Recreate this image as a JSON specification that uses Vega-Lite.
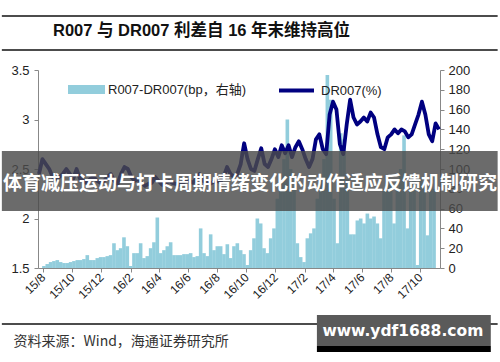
{
 "$schema": "https://vega.github.io/schema/vega-lite/v6.json",
 "autosize": "none",
 "width": 402,
 "height": 198,
 "padding": {"left": 38, "top": 70, "right": 60, "bottom": 94},
 "background": "white",
 "config": {
  "view": {"stroke": null},
  "font": "Liberation Sans, Noto Sans CJK SC",
  "axisX": {"labelOverlap": false, "labelFlush": false, "labelAngle": -45, "labelAlign": "right", "labelBaseline": "middle", "labelFontSize": 12, "labelColor": "#222", "grid": false, "domainColor": "#888", "tickColor": "#888", "tickSize": 4, "labelPadding": 3},
  "axisY": {"labelOverlap": false, "grid": false, "domainColor": "#888", "tickColor": "#888", "tickSize": 4, "labelFontSize": 13, "labelColor": "#222"}
 },
 "title": {"text": "R007 与 DR007 利差自 16 年末维持高位", "anchor": "start", "frame": "group", "dx": 15, "offset": -24, "fontSize": 16.5, "fontWeight": "bold", "font": "Liberation Sans, Noto Sans CJK SC", "color": "#111"},
 "datasets": {
  "main": [
   {"d":"2015-08-03","s":2,"r":2.45},{"d":"2015-08-10","s":4,"r":2.6},{"d":"2015-08-17","s":6,"r":2.55},{"d":"2015-08-24","s":7,"r":2.5},{"d":"2015-08-31","s":8,"r":2.42},
   {"d":"2015-09-07","s":6,"r":2.4},{"d":"2015-09-14","s":5,"r":2.42},{"d":"2015-09-21","s":5,"r":2.45},{"d":"2015-09-28","s":6,"r":2.5},
   {"d":"2015-10-05","s":7,"r":2.45},{"d":"2015-10-12","s":8,"r":2.4},{"d":"2015-10-19","s":8,"r":2.5},{"d":"2015-10-26","s":9,"r":2.4},
   {"d":"2015-11-02","s":13,"r":2.38},{"d":"2015-11-09","s":8,"r":2.36},{"d":"2015-11-16","s":8,"r":2.4},{"d":"2015-11-23","s":10,"r":2.42},{"d":"2015-11-30","s":11,"r":2.38},
   {"d":"2015-12-07","s":11,"r":2.36},{"d":"2015-12-14","s":12,"r":2.38},{"d":"2015-12-21","s":13,"r":2.42},{"d":"2015-12-28","s":25,"r":2.45},
   {"d":"2016-01-04","s":18,"r":2.38},{"d":"2016-01-11","s":20,"r":2.35},{"d":"2016-01-18","s":31,"r":2.45},{"d":"2016-01-25","s":22,"r":2.52},
   {"d":"2016-02-01","s":2,"r":2.5},{"d":"2016-02-08","s":15,"r":2.42},{"d":"2016-02-15","s":15,"r":2.38},{"d":"2016-02-22","s":25,"r":2.4},{"d":"2016-02-29","s":10,"r":2.36},
   {"d":"2016-03-07","s":12,"r":2.33},{"d":"2016-03-14","s":20,"r":2.35},{"d":"2016-03-21","s":26,"r":2.36},{"d":"2016-03-28","s":51,"r":2.42},
   {"d":"2016-04-04","s":15,"r":2.38},{"d":"2016-04-11","s":18,"r":2.34},{"d":"2016-04-18","s":22,"r":2.35},{"d":"2016-04-25","s":26,"r":2.38},
   {"d":"2016-05-02","s":13,"r":2.36},{"d":"2016-05-09","s":13,"r":2.35},{"d":"2016-05-16","s":13,"r":2.34},{"d":"2016-05-23","s":14,"r":2.36},{"d":"2016-05-30","s":14,"r":2.38},
   {"d":"2016-06-06","s":15,"r":2.38},{"d":"2016-06-13","s":11,"r":2.36},{"d":"2016-06-20","s":12,"r":2.4},{"d":"2016-06-27","s":40,"r":2.45},
   {"d":"2016-07-04","s":15,"r":2.38},{"d":"2016-07-11","s":12,"r":2.36},{"d":"2016-07-18","s":34,"r":2.35},{"d":"2016-07-25","s":18,"r":2.37},
   {"d":"2016-08-01","s":22,"r":2.38},{"d":"2016-08-08","s":22,"r":2.37},{"d":"2016-08-15","s":14,"r":2.42},{"d":"2016-08-22","s":24,"r":2.52},{"d":"2016-08-29","s":10,"r":2.45},
   {"d":"2016-09-05","s":22,"r":2.42},{"d":"2016-09-12","s":25,"r":2.45},{"d":"2016-09-19","s":18,"r":2.55},{"d":"2016-09-26","s":14,"r":2.76},
   {"d":"2016-10-03","s":3,"r":2.6},{"d":"2016-10-10","s":18,"r":2.5},{"d":"2016-10-17","s":30,"r":2.48},{"d":"2016-10-24","s":50,"r":2.6},{"d":"2016-10-31","s":45,"r":2.71},
   {"d":"2016-11-07","s":20,"r":2.55},{"d":"2016-11-14","s":15,"r":2.52},{"d":"2016-11-21","s":30,"r":2.6},{"d":"2016-11-28","s":40,"r":2.7},
   {"d":"2016-12-05","s":70,"r":2.62},{"d":"2016-12-12","s":90,"r":2.74},{"d":"2016-12-19","s":110,"r":2.66},{"d":"2016-12-26","s":150,"r":2.74},
   {"d":"2017-01-02","s":100,"r":2.62},{"d":"2017-01-09","s":80,"r":2.72},{"d":"2017-01-16","s":25,"r":2.78},{"d":"2017-01-23","s":11,"r":2.7},{"d":"2017-01-30","s":6,"r":2.6},
   {"d":"2017-02-06","s":30,"r":2.52},{"d":"2017-02-13","s":35,"r":2.6},{"d":"2017-02-20","s":40,"r":2.8},{"d":"2017-02-27","s":70,"r":2.85},
   {"d":"2017-03-06","s":90,"r":2.7},{"d":"2017-03-13","s":110,"r":2.65},{"d":"2017-03-20","s":195,"r":3.05},{"d":"2017-03-27","s":170,"r":3.18},
   {"d":"2017-04-03","s":70,"r":3.1},{"d":"2017-04-10","s":25,"r":2.75},{"d":"2017-04-17","s":136,"r":2.65},{"d":"2017-04-24","s":130,"r":2.95},
   {"d":"2017-05-01","s":90,"r":3.2},{"d":"2017-05-08","s":34,"r":3.02},{"d":"2017-05-15","s":34,"r":2.95},{"d":"2017-05-22","s":48,"r":2.98},{"d":"2017-05-29","s":50,"r":3.02},
   {"d":"2017-06-05","s":45,"r":2.98},{"d":"2017-06-12","s":55,"r":3.07},{"d":"2017-06-19","s":50,"r":3.02},{"d":"2017-06-26","s":52,"r":2.85},
   {"d":"2017-07-03","s":45,"r":2.72},{"d":"2017-07-10","s":30,"r":2.7},{"d":"2017-07-17","s":80,"r":2.82},{"d":"2017-07-24","s":90,"r":2.85},{"d":"2017-07-31","s":85,"r":2.9},
   {"d":"2017-08-07","s":45,"r":2.86},{"d":"2017-08-14","s":80,"r":2.9},{"d":"2017-08-21","s":100,"r":2.88},{"d":"2017-08-28","s":134,"r":2.82},
   {"d":"2017-09-04","s":40,"r":2.85},{"d":"2017-09-11","s":80,"r":2.95},{"d":"2017-09-18","s":90,"r":3.05},{"d":"2017-09-25","s":3,"r":3.18},
   {"d":"2017-10-02","s":90,"r":3.05},{"d":"2017-10-09","s":85,"r":2.85},{"d":"2017-10-16","s":33,"r":2.78},{"d":"2017-10-23","s":85,"r":2.96},{"d":"2017-10-30","s":80,"r":2.9}
  ]
 },
 "data": {"name": "main"},
 "layer": [
  {
   "mark": {"type": "bar", "size": 3.6, "color": "#92cddc"},
   "encoding": {
    "x": {"field": "d", "type": "temporal",
     "scale": {"domain": [{"year":2015,"month":8,"date":1},{"year":2017,"month":11,"date":1}]},
     "axis": {"format": "%y/%-m",
      "values": [{"year":2015,"month":8,"date":1},{"year":2015,"month":10,"date":1},{"year":2015,"month":12,"date":1},{"year":2016,"month":2,"date":1},{"year":2016,"month":4,"date":1},{"year":2016,"month":6,"date":1},{"year":2016,"month":8,"date":1},{"year":2016,"month":10,"date":1},{"year":2016,"month":12,"date":1},{"year":2017,"month":2,"date":1},{"year":2017,"month":4,"date":1},{"year":2017,"month":6,"date":1},{"year":2017,"month":8,"date":1},{"year":2017,"month":10,"date":1}],
      "labelOverlap": false,
      "title": "资料来源：Wind，海通证券研究所", "titleAnchor": "start", "titleAlign": "left", "titleX": -25, "titleY": 77, "titleBaseline": "alphabetic", "titleFontSize": 14, "titleFontWeight": "normal", "titleColor": "#333", "titleFont": "Noto Sans CJK SC"}},
    "y": {"field": "s", "type": "quantitative", "scale": {"domain": [0, 200]},
     "axis": {"orient": "right", "values": [0,20,40,60,80,100,120,140,160,180,200], "title": null, "labelPadding": 4}},
    "color": {"datum": "R007-DR007(bp，右轴)", "scale": {"range": ["#92cddc"]},
     "legend": {"orient": "none", "legendX": 30, "legendY": 1, "title": null, "symbolType": "M-1,-0.24H1V0.24H-1Z", "symbolSize": 1369, "symbolStrokeWidth": 0, "labelFontSize": 13, "labelFont": "Liberation Sans, Noto Sans CJK SC", "labelColor": "#222", "labelOffset": 3}}
   }
  },
  {
   "mark": {"type": "line", "strokeWidth": 3.8, "strokeJoin": "round"},
   "encoding": {
    "x": {"field": "d", "type": "temporal", "axis": null, "scale": {"domain": [{"year":2015,"month":8,"date":1},{"year":2017,"month":11,"date":1}]}},
    "y": {"field": "r", "type": "quantitative", "scale": {"domain": [1.5, 3.5]},
     "axis": {"orient": "left", "values": [1.5,2,2.5,3,3.5], "format": "~g", "title": null, "labelPadding": 5}},
    "stroke": {"datum": "DR007(%)", "scale": {"range": ["#000080"]},
     "legend": {"orient": "none", "legendX": 239, "legendY": 1, "title": null, "symbolType": "stroke", "symbolSize": 1225, "symbolStrokeWidth": 4, "labelFontSize": 13, "labelFont": "Liberation Sans, Noto Sans CJK SC", "labelColor": "#222", "labelOffset": 5}}
   }
  },
  {
   "data": {"values": [{}]},
   "mark": {"type": "rect", "color": "#4a4a4a", "opacity": 0.82},
   "encoding": {
    "x": {"datum": {"year":2015,"month":5,"date":19}, "axis": null, "scale": {"domain": [{"year":2015,"month":8,"date":1},{"year":2017,"month":11,"date":1}]}},
    "x2": {"datum": {"year":2018,"month":2,"date":27}},
    "y": {"datum": 2.682, "axis": null, "scale": {"domain": [1.5, 3.5]}},
    "y2": {"datum": 2.076}
   }
  },
  {
   "data": {"values": [{}]},
   "mark": {"type": "text", "text": "体育减压运动与打卡周期情绪变化的动作适应反馈机制研究", "color": "white", "fontSize": 19, "fontWeight": "bold", "font": "Noto Sans CJK SC", "align": "center", "baseline": "middle"},
   "encoding": {
    "x": {"datum": {"year":2016,"month":10,"date":8}, "axis": null, "scale": {"domain": [{"year":2015,"month":8,"date":1},{"year":2017,"month":11,"date":1}]}},
    "y": {"datum": 2.35, "axis": null, "scale": {"domain": [1.5, 3.5]}}
   }
  },
  {
   "data": {"values": [{}]},
   "mark": {"type": "rule", "color": "#111", "strokeWidth": 1.5},
   "encoding": {
    "x": {"datum": {"year":2015,"month":5,"date":19}, "axis": null, "scale": {"domain": [{"year":2015,"month":8,"date":1},{"year":2017,"month":11,"date":1}]}},
    "x2": {"datum": {"year":2018,"month":2,"date":27}},
    "y": {"datum": 4.045, "axis": null, "scale": {"domain": [1.5, 3.5]}}
   }
  },
  {
   "data": {"values": [{}]},
   "mark": {"type": "rule", "color": "#111", "strokeWidth": 1.5},
   "encoding": {
    "x": {"datum": {"year":2015,"month":5,"date":19}, "axis": null, "scale": {"domain": [{"year":2015,"month":8,"date":1},{"year":2017,"month":11,"date":1}]}},
    "x2": {"datum": {"year":2018,"month":2,"date":27}},
    "y": {"datum": 3.702, "axis": null, "scale": {"domain": [1.5, 3.5]}}
   }
  },
  {
   "data": {"values": [{}]},
   "mark": {"type": "rule", "color": "#111", "strokeWidth": 1.5},
   "encoding": {
    "x": {"datum": {"year":2015,"month":5,"date":19}, "axis": null, "scale": {"domain": [{"year":2015,"month":8,"date":1},{"year":2017,"month":11,"date":1}]}},
    "x2": {"datum": {"year":2018,"month":2,"date":27}},
    "y": {"datum": 0.934, "axis": null, "scale": {"domain": [1.5, 3.5]}}
   }
  },
  {
   "data": {"values": [{}]},
   "mark": {"type": "rect", "color": "#5a5a5a"},
   "encoding": {
    "x": {"datum": {"year":2017,"month":2,"date":22}, "axis": null, "scale": {"domain": [{"year":2015,"month":8,"date":1},{"year":2017,"month":11,"date":1}]}},
    "x2": {"datum": {"year":2018,"month":2,"date":13}},
    "y": {"datum": 1.025, "axis": null, "scale": {"domain": [1.5, 3.5]}},
    "y2": {"datum": 0.712}
   }
  },
  {
   "data": {"values": [{}]},
   "mark": {"type": "rect", "color": "#000000"},
   "encoding": {
    "x": {"datum": {"year":2017,"month":2,"date":22}, "axis": null, "scale": {"domain": [{"year":2015,"month":8,"date":1},{"year":2017,"month":11,"date":1}]}},
    "x2": {"datum": {"year":2018,"month":2,"date":13}},
    "y": {"datum": 0.712, "axis": null, "scale": {"domain": [1.5, 3.5]}},
    "y2": {"datum": 0.652}
   }
  },
  {
   "data": {"values": [{}]},
   "mark": {"type": "text", "text": "www.ydf1688.com", "color": "white", "fontSize": 15.5, "fontWeight": "bold", "font": "DejaVu Sans", "align": "center", "baseline": "middle"},
   "encoding": {
    "x": {"datum": {"year":2017,"month":8,"date":17}, "axis": null, "scale": {"domain": [{"year":2015,"month":8,"date":1},{"year":2017,"month":11,"date":1}]}},
    "y": {"datum": 0.864, "axis": null, "scale": {"domain": [1.5, 3.5]}}
   }
  }
 ],
 "resolve": {"scale": {"x": "independent", "y": "independent"}}
}
